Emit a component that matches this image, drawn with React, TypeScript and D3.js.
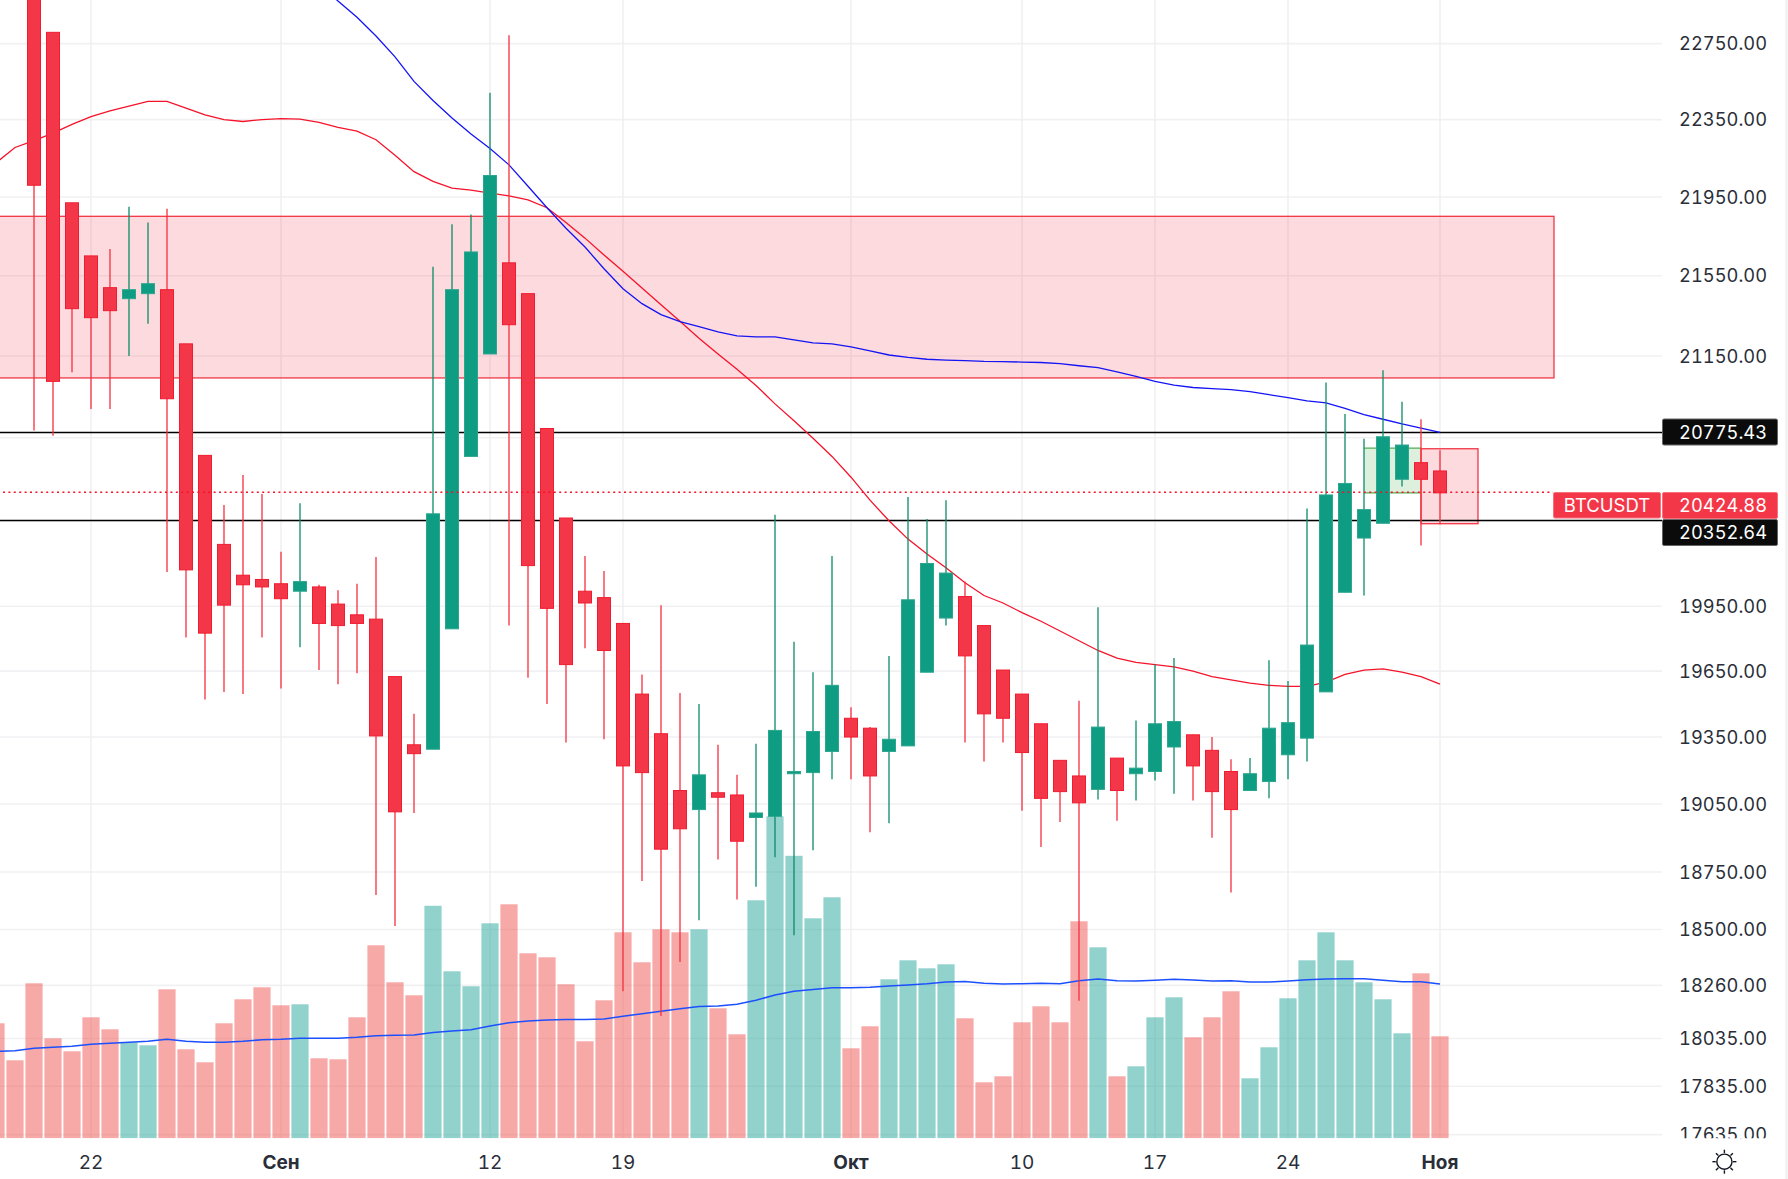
// App.tsx - BTCUSDT daily candles with moving averages and volume
import React, { useRef, useEffect } from "react";
import * as d3 from "d3";

const width = 1788;
const height = 1179;

// one entry per day from 19 Aug to 1 Nov
const opens = [23050,22810,21920,21650,21490,21435,21460,21480,21210,20665,20240,20095,20075,20055,20020,20040,19960,19910,19890,19625,19315,19295,19845,20660,21160,21615,21460,20795,20365,20020,19990,19870,19545,19365,19110,19025,19100,19090,18990,18995,19185,19190,19285,19435,19390,19285,19310,19645,19895,19995,19860,19655,19545,19410,19245,19175,19115,19255,19185,19195,19305,19360,19290,19195,19110,19150,19270,19345,19555,20015,20270,20340,20550,20630,20590];
const highs = [23100,22810,21920,21650,21685,21900,21820,21890,21210,20665,20427,20570,20480,20205,20435,20050,20025,20055,20180,19625,19455,21595,21810,21860,22490,22795,21460,20795,20365,20185,20115,19870,19635,19955,19550,19500,19315,19180,19320,20380,19785,19645,20185,19485,19395,19720,20465,20360,20450,20065,19860,19655,19545,19410,19245,19515,19945,19255,19425,19680,19710,19360,19350,19250,19255,19700,19605,20410,21020,20865,20745,21080,20925,20840,20690];
const lows = [20785,20760,21070,20890,20890,21150,21310,20110,19805,19520,19555,19545,19805,19570,19760,19655,19590,19640,18650,18515,19010,19295,19845,20660,21160,19860,19620,19500,19325,19755,19340,18235,18710,18130,18360,18540,18805,18630,18685,18815,18475,18845,19160,19160,18925,18965,19310,19645,19860,19325,19240,19325,19020,18860,18970,18195,19070,18975,19065,19155,19095,19065,18900,18660,19110,19075,19160,19240,19555,20015,20000,20340,20515,20235,20335];
const closes = [22010,21025,21385,21340,21375,21480,21510,20940,20120,19825,19955,20050,20040,19985,20065,19870,19860,19870,19355,19015,19275,20385,21480,21670,22060,21305,20140,19940,19680,19965,19745,19220,19190,18850,18940,19180,19080,18885,19010,19380,19195,19375,19585,19350,19175,19340,19980,20150,20105,19720,19455,19435,19280,19075,19105,19055,19395,19110,19210,19410,19420,19220,19105,19025,19185,19390,19415,19770,20475,20530,20405,20755,20715,20550,20485];
const candleStartDay = 2; // candles of 17 and 18 Aug are above the visible range

// one entry per day from 17 Aug to 1 Nov (thousands)
const volumes = [115,78,155,100,87,121,109,96,93,149,89,76,115,139,151,133,134,80,79,121,193,156,143,232.5,167,152,215,234,185,181,154,97,138,206,176,209,206,209,130,104,238,322,282.5,220,241,90,112,159,178,170,174,120,56,62,116,132,116,217,191,62,72,121,141,101,121,147,60,91,140,178,206,178,156,139,105,165,102];
const volumeMa = [87,87.6,90,91,92,94,95,96,97,99,97,96,96,97,98.6,99,100,100,100,101,102.6,103,103.3,105.7,107.3,108.5,112.3,115.6,117.3,118.3,118.8,118.8,119.3,122,124.6,127,129.5,131.8,132.3,134,138,143.3,147,148.7,150.5,150.5,151,152.3,153.3,154.5,156.3,156.7,155,154.3,154.5,155,154.5,157.6,159.3,157.6,157.3,158,159,158.3,157.3,157.6,156.3,156.3,157.3,158.6,159.3,159.6,159.6,158,156.6,156.6,154.3];

const redMa = [22125,22205,22240,22280,22325,22365,22395,22420,22445,22445,22410,22375,22350,22340,22350,22355,22352,22335,22310,22290,22245,22165,22080,22030,21995,21985,21970,21955,21935,21895,21820,21740,21655,21572,21488,21405,21322,21238,21160,21085,21005,20915,20833,20748,20660,20560,20450,20352,20265,20195,20130,20060,20000,19965,19920,19880,19835,19790,19745,19710,19690,19680,19670,19650,19625,19610,19595,19585,19580,19580,19600,19635,19655,19660,19645,19625,19590];
const blueMaStartDay = 17; // 3 Sep, earlier values are above the visible range
const blueMa = [23073,22977,22890,22790,22680,22550,22450,22358,22275,22200,22115,22005,21895,21790,21695,21585,21485,21410,21355,21320,21295,21270,21250,21245,21245,21230,21215,21210,21195,21175,21155,21143,21134,21130,21127,21123,21122,21120,21118,21112,21102,21093,21072,21050,21025,21007,20995,20990,20985,20975,20960,20945,20930,20920,20893,20862,20840,20817,20797,20776];

const priceTicks = [22750,22350,21950,21550,21150,20750,20350,19950,19650,19350,19050,18750,18500,18260,18035,17835,17635];
const dayTicks = [5,15,26,33,45,54,61,68,76];
const dayTickLabels = ["22","Сен","12","19","Окт","10","17","24","Ноя"];
const boldTicks = ["Сен","Окт","Ноя"];

const resistanceLine = 20775.43;
const supportLine = 20352.64;
const lastClose = 20488;
const lastPriceLabel = "20424.88";
const symbol = "BTCUSDT";

const zone = { dayFrom: -2, dayTo: 82, top: 21851, bottom: 21042 };
const greenBox = { dayFrom: 72, dayTo: 75, top: 20700, bottom: 20485 };
const redBox = { dayFrom: 75, dayTo: 78, top: 20697, bottom: 20338 };

const UP = "#0e9c82";
const DOWN = "#f43748";
const FONT = "Inter, 'Noto Sans', sans-serif";

export default function App() {
  const ref = useRef<SVGSVGElement>(null);

  useEffect(() => {
    const svg = d3.select(ref.current);
    svg.selectAll("*").remove();

    const plotRight = 1662;
    const plotBottom = 1138.3;

    const x = d3.scaleLinear().domain([0, 76]).range([-4, 1440]);
    const y = d3.scaleLog().domain([22750, 17635]).range([43.6, 1134.6]);
    const v = d3.scaleLinear().domain([0, 322]).range([plotBottom, plotBottom - 322]);

    const defs = svg.append("defs");
    defs.append("clipPath").attr("id", "plot")
      .append("rect").attr("width", plotRight).attr("height", plotBottom);
    defs.append("clipPath").attr("id", "axis")
      .append("rect").attr("x", plotRight).attr("width", width - plotRight).attr("height", plotBottom);

    svg.append("rect").attr("width", width).attr("height", height).attr("fill", "#fff");
    svg.append("line").attr("x1", 1786.5).attr("x2", 1786.5).attr("y1", 0).attr("y2", height)
      .attr("stroke", "#eeeeee").attr("stroke-width", 2);

    const plot = svg.append("g").attr("clip-path", "url(#plot)");

    // grid
    plot.selectAll("line.h").data(priceTicks).join("line")
      .attr("class", "h")
      .attr("x1", 0).attr("x2", plotRight)
      .attr("y1", d => y(d)).attr("y2", d => y(d))
      .attr("stroke", "#f1f1f3").attr("stroke-width", 1.6);
    plot.selectAll("line.v").data(dayTicks).join("line")
      .attr("class", "v")
      .attr("x1", d => x(d)).attr("x2", d => x(d))
      .attr("y1", 0).attr("y2", plotBottom)
      .attr("stroke", "#eeeef0").attr("stroke-width", 1.4);

    // volume
    const days = volumes.map((d, i) => i);
    const isUp = (day: number) => day >= candleStartDay && closes[day - candleStartDay] > opens[day - candleStartDay];
    plot.selectAll("rect.vol").data(days).join("rect")
      .attr("class", "vol")
      .attr("x", d => x(d) - 8.6).attr("width", 17.2)
      .attr("y", d => v(volumes[d]))
      .attr("height", d => plotBottom - v(volumes[d]))
      .attr("fill", d => (isUp(d) ? "#26a69a" : "#ef5350"))
      .attr("fill-opacity", 0.5);

    // zones
    const boxes = [
      { ...zone, fill: "#f23a52", stroke: "#f23645", sides: true },
      { ...greenBox, fill: "#4caf50", stroke: "#4caf50", sides: false },
      { ...redBox, fill: "#f23a52", stroke: "#f23645", sides: true },
    ];
    boxes.forEach(b => {
      plot.append("rect")
        .attr("x", x(b.dayFrom)).attr("width", x(b.dayTo) - x(b.dayFrom))
        .attr("y", y(b.top)).attr("height", y(b.bottom) - y(b.top))
        .attr("fill", b.fill).attr("fill-opacity", 0.19)
        .attr("stroke", b.sides ? b.stroke : "none").attr("stroke-width", 1.3);
      if (!b.sides) {
        [b.top, b.bottom].forEach(p => {
          plot.append("line")
            .attr("x1", x(b.dayFrom)).attr("x2", x(b.dayTo))
            .attr("y1", y(p)).attr("y2", y(p))
            .attr("stroke", b.stroke).attr("stroke-width", 1.2);
        });
      }
    });

    // horizontal levels
    [resistanceLine, supportLine].forEach(p => {
      plot.append("line")
        .attr("x1", 0).attr("x2", plotRight)
        .attr("y1", y(p)).attr("y2", y(p))
        .attr("stroke", "#000").attr("stroke-width", 1.5);
    });

    // moving averages
    const priceLine = (start: number) => d3.line<number>()
      .x((d, i) => x(i + start))
      .y(d => y(d));
    const volumeLine = d3.line<number>()
      .x((d, i) => x(i))
      .y(d => v(d));

    plot.append("path").attr("d", volumeLine(volumeMa))
      .attr("fill", "none").attr("stroke", "#1c50ff").attr("stroke-width", 1.5);
    plot.append("path").attr("d", priceLine(0)(redMa))
      .attr("fill", "none").attr("stroke", "#f5132a").attr("stroke-width", 1.3);
    plot.append("path").attr("d", priceLine(blueMaStartDay)(blueMa))
      .attr("fill", "none").attr("stroke", "#1414f5").attr("stroke-width", 1.3);

    // candles
    const candles = plot.selectAll("g.candle").data(opens).join("g").attr("class", "candle");
    candles.append("line")
      .attr("x1", (d, i) => x(i + candleStartDay)).attr("x2", (d, i) => x(i + candleStartDay))
      .attr("y1", (d, i) => y(highs[i])).attr("y2", (d, i) => y(lows[i]))
      .attr("stroke", (d, i) => (closes[i] > opens[i] ? "#0b8a68" : "#f4303f"))
      .attr("stroke-width", 1.3);
    candles.append("rect")
      .attr("x", (d, i) => x(i + candleStartDay) - 6.5).attr("width", 13)
      .attr("y", (d, i) => y(Math.max(opens[i], closes[i])))
      .attr("height", (d, i) => Math.abs(y(opens[i]) - y(closes[i])))
      .attr("fill", (d, i) => (closes[i] > opens[i] ? UP : DOWN))
      .attr("stroke", (d, i) => (closes[i] > opens[i] ? "#2ba68f" : "#f01c30"))
      .attr("stroke-width", 1);

    // last price line
    plot.append("line")
      .attr("x1", 3).attr("x2", 1553)
      .attr("y1", y(lastClose)).attr("y2", y(lastClose))
      .attr("stroke", "#f5132a").attr("stroke-width", 1.5)
      .attr("stroke-dasharray", "2 3.4");

    // price axis
    svg.append("g").attr("clip-path", "url(#axis)")
      .selectAll("text").data(priceTicks.filter(d => d !== 20750 && d !== 20350)).join("text")
      .attr("x", 1767).attr("y", d => y(d))
      .attr("dy", "0.36em")
      .attr("text-anchor", "end")
      .attr("font-family", FONT).attr("font-size", 18.3)
      .style("font-variant-numeric", "tabular-nums")
      .attr("fill", "#2a2e39")
      .text(d => d3.format(".2f")(d));

    // day axis
    svg.append("g").selectAll("text").data(dayTicks).join("text")
      .attr("x", d => x(d)).attr("y", 1162.5)
      .attr("dy", "0.36em")
      .attr("text-anchor", "middle")
      .attr("font-family", FONT).attr("font-size", 19)
      .style("font-variant-numeric", "tabular-nums")
      .attr("font-weight", (d, i) => (boldTicks.includes(dayTickLabels[i]) ? 700 : 400))
      .attr("fill", "#2a2e39")
      .text((d, i) => dayTickLabels[i]);

    // price labels
    const tags = [
      { text: d3.format(".2f")(resistanceLine), top: 419, fill: "#0b0b0b", border: "#666" },
      { text: lastPriceLabel, top: 492.5, fill: DOWN, border: "#f8707c" },
      { text: d3.format(".2f")(supportLine), top: 519.5, fill: "#0b0b0b", border: "#666" },
    ];
    const tagHeight = 26;
    tags.forEach(t => {
      svg.append("rect")
        .attr("x", 1662.5).attr("y", t.top)
        .attr("width", 115).attr("height", tagHeight).attr("rx", 1.5)
        .attr("fill", t.fill).attr("stroke", t.border).attr("stroke-width", 1);
      svg.append("text")
        .attr("x", 1767).attr("y", t.top + tagHeight / 2).attr("dy", "0.36em")
        .attr("text-anchor", "end")
        .attr("font-family", FONT).attr("font-size", 18.3)
        .style("font-variant-numeric", "tabular-nums")
        .attr("fill", "#fff").text(t.text);
    });
    svg.append("rect")
      .attr("x", 1553.5).attr("y", 492.5)
      .attr("width", 107).attr("height", 25.5).attr("rx", 1.5)
      .attr("fill", DOWN).attr("stroke", "#f8707c").attr("stroke-width", 1);
    svg.append("text")
      .attr("x", 1607).attr("y", 505.2).attr("dy", "0.36em")
      .attr("text-anchor", "middle")
      .attr("font-family", FONT).attr("font-size", 18.5)
      .attr("fill", "#fff").text(symbol);

    // theme switch icon
    const sun = svg.append("g").attr("transform", "translate(1724.4,1161.7)")
      .attr("stroke", "#131722").attr("stroke-width", 1.4).attr("fill", "none");
    sun.append("circle").attr("r", 7.6);
    sun.selectAll("line").data(d3.range(8)).join("line")
      .attr("y1", -8.6).attr("y2", -12)
      .attr("transform", d => `rotate(${d * 45})`);
  }, []);

  return (
    <svg
      ref={ref}
      width={width}
      height={height}
      style={{ position: "absolute", left: 0, top: 0, display: "block" }}
    />
  );
}
